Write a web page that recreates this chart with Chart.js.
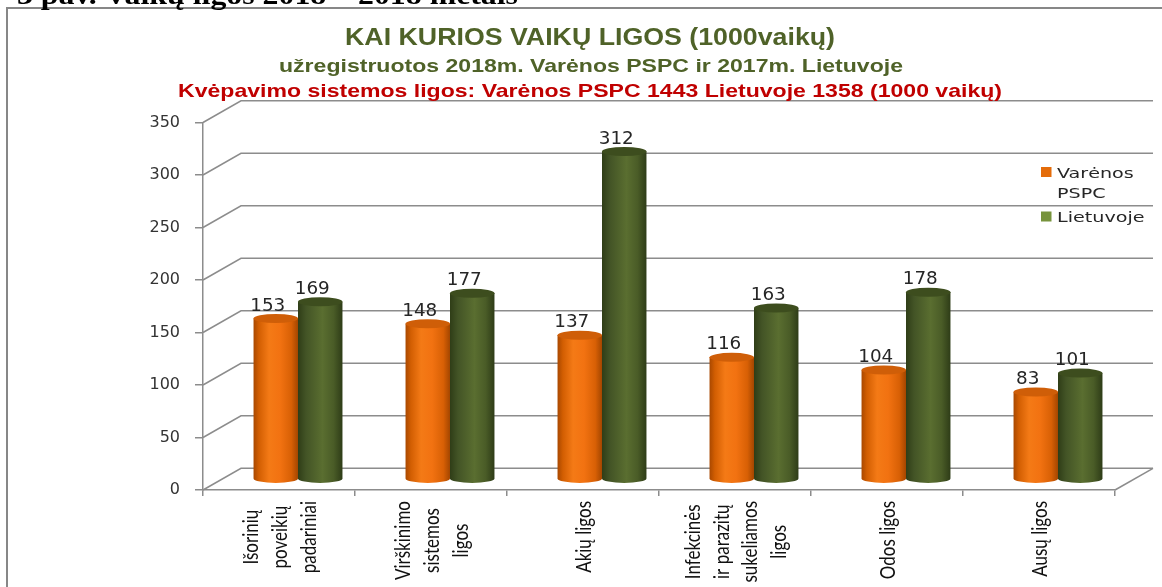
<!DOCTYPE html>
<html>
<head>
<meta charset="utf-8">
<script src="https://cdn.jsdelivr.net/npm/chart.js@4.4.1/dist/chart.umd.min.js"></script>
<style>
  html, body { margin: 0; padding: 0; background: #fff; }
  canvas { display: block; }
</style>
</head>
<body>
<canvas id="barChart" width="1162" height="587"></canvas>
<script>
// data
const CATEGORIES = [
    ["Išorinių", "poveikių", "padariniai"],
    ["Virškinimo", "sistemos", "ligos"],
    ["Akių ligos"],
    ["Infekcinės", "ir parazitų", "sukeliamos", "ligos"],
    ["Odos ligos"],
    ["Ausų ligos"],
];
const SERIES_NAMES = ["Varėnos PSPC", "Lietuvoje"];
const VARENA = [153, 148, 137, 116, 104, 83];
const LIETUVA = [169, 177, 312, 163, 178, 101];
const Y_MIN = 0;
const Y_MAX = 350;
const Y_STEP = 50;

const CAPTION = "3 pav. Vaikų ligos 2018 – 2018 metais";
const TITLE = "KAI KURIOS VAIKŲ LIGOS (1000vaikų)";
const SUBTITLE = "užregistruotos 2018m. Varėnos PSPC ir 2017m. Lietuvoje";
const NOTE = "Kvėpavimo sistemos ligos: Varėnos PSPC 1443 Lietuvoje 1358 (1000 vaikų)";

// 3d look
const DEPTH_X = 38;
const DEPTH_Y = -21.7;
const GRID = "#8c8c8c";

const CYL = [
    {
        stops: [[0, "#a94800"], [0.12, "#d25e02"], [0.35, "#f47a16"], [0.6, "#f27211"], [0.85, "#d86005"], [1, "#a44600"]],
        top: "#cf5e08",
    },
    {
        stops: [[0, "#2f3d17"], [0.18, "#435426"], [0.55, "#5a6e30"], [0.8, "#4a5c27"], [1, "#2e3c17"]],
        top: "#3d4d1e",
    },
];

function fitText(ctx, text, x, y, width, align) {
    const w = ctx.measureText(text).width;
    ctx.save();
    ctx.translate(x, y);
    ctx.scale(width / w, 1);
    ctx.textAlign = align;
    ctx.fillText(text, 0, 0);
    ctx.restore();
}

function wideText(ctx, text, x, y, sx, align) {
    ctx.save();
    ctx.translate(x, y);
    ctx.scale(sx, 1);
    ctx.textAlign = align;
    ctx.fillText(text, 0, 0);
    ctx.restore();
}

function cylinder(ctx, cx, top, bottom, rx, ry, style) {
    const g = ctx.createLinearGradient(cx - rx, 0, cx + rx, 0);
    style.stops.forEach(([o, c]) => g.addColorStop(o, c));
    ctx.fillStyle = g;
    ctx.beginPath();
    ctx.moveTo(cx - rx, top);
    ctx.lineTo(cx - rx, bottom);
    ctx.ellipse(cx, bottom, rx, ry, 0, Math.PI, 0, true);
    ctx.lineTo(cx + rx, top);
    ctx.closePath();
    ctx.fill();

    ctx.fillStyle = style.top;
    ctx.beginPath();
    ctx.ellipse(cx, top, rx, ry, 0, 0, Math.PI * 2);
    ctx.fill();
}

const decor = {
    id: "decor",
    beforeDraw(chart) {
        const ctx = chart.ctx;
        ctx.save();
        ctx.strokeStyle = "#878787";
        ctx.lineWidth = 2;
        ctx.strokeRect(7, 8, 1200, 700);
        ctx.restore();
    },
    beforeDatasetsDraw(chart) {
        const ctx = chart.ctx;
        const area = chart.chartArea;
        const yScale = chart.scales.y;

        // back wall grid lines with the side diagonals
        ctx.save();
        ctx.strokeStyle = GRID;
        ctx.lineWidth = 1.5;
        yScale.ticks.forEach((t) => {
            const y = yScale.getPixelForValue(t.value);
            ctx.beginPath();
            ctx.moveTo(area.left, y);
            ctx.lineTo(area.left + DEPTH_X, y + DEPTH_Y);
            ctx.lineTo(area.right + DEPTH_X, y + DEPTH_Y);
            ctx.stroke();
        });
        ctx.beginPath();
        ctx.moveTo(area.right, area.bottom);
        ctx.lineTo(area.right + DEPTH_X, area.bottom + DEPTH_Y);
        ctx.stroke();
        ctx.restore();

        // cylinders in the middle of the depth
        ctx.save();
        chart.data.datasets.forEach((ds, d) => {
            chart.getDatasetMeta(d).data.forEach((bar) => {
                const p = bar.getProps(["x", "y", "base", "width"], true);
                const cx = p.x + DEPTH_X / 2;
                const rx = p.width / 2;
                cylinder(ctx, cx, p.y + DEPTH_Y / 2, p.base + DEPTH_Y / 2, rx, 4.5, CYL[d]);
            });
        });
        ctx.restore();
        return false;
    },
    afterDraw(chart) {
        const ctx = chart.ctx;
        const xScale = chart.scales.x;

        // value labels
        ctx.save();
        ctx.font = "17px 'DejaVu Sans'";
        ctx.fillStyle = "#262626";
        ctx.textBaseline = "alphabetic";
        chart.data.datasets.forEach((ds, d) => {
            chart.getDatasetMeta(d).data.forEach((bar, i) => {
                const p = bar.getProps(["x", "y"], true);
                wideText(ctx, String(ds.data[i]), p.x + DEPTH_X / 2 - 8, p.y + DEPTH_Y / 2 - 8, 1.08, "center");
            });
        });
        ctx.restore();

        // category labels, rotated, lines centred
        ctx.save();
        ctx.font = "17px Lato";
        ctx.fillStyle = "#111";
        ctx.textAlign = "center";
        ctx.textBaseline = "middle";
        CATEGORIES.forEach((lines, i) => {
            const cx = xScale.getPixelForValue(i) + 1;
            const maxW = Math.max(...lines.map((l) => ctx.measureText(l).width));
            const cy = 501 + maxW / 2;
            const pitch = 28.6;
            lines.forEach((line, j) => {
                const lx = cx + (j - (lines.length - 1) / 2) * pitch;
                ctx.save();
                ctx.translate(lx, cy);
                ctx.rotate(-Math.PI / 2);
                ctx.scale(1, 1.27);
                ctx.fillText(line, 0, 0);
                ctx.restore();
            });
        });
        ctx.restore();

        // legend
        ctx.save();
        ctx.font = "14.5px 'DejaVu Sans'";
        ctx.fillStyle = "#262626";
        const legendRows = [[177.5, 197.5], [222]];
        chart.data.datasets.forEach((ds, d) => {
            const rows = legendRows[d];
            ctx.fillStyle = ds.backgroundColor;
            ctx.fillRect(1041, rows[0] - 10.5, 10.5, 10);
            ctx.fillStyle = "#262626";
            const words = ds.label.split(" ");
            const lines = rows.length > 1 ? [words[0], words.slice(1).join(" ")] : [ds.label];
            lines.forEach((line, k) => wideText(ctx, line, 1057, rows[k], 1.32, "left"));
        });
        ctx.restore();

        // titles
        ctx.save();
        ctx.textBaseline = "alphabetic";
        ctx.fillStyle = "#4f6228";
        ctx.font = "bold 23px 'Liberation Sans'";
        fitText(ctx, TITLE, 590, 45, 490, "center");
        ctx.font = "bold 18.5px 'Liberation Sans'";
        fitText(ctx, SUBTITLE, 591, 71.7, 624, "center");
        ctx.fillStyle = "#c00000";
        fitText(ctx, NOTE, 590, 96.7, 824, "center");

        ctx.fillStyle = "#000";
        ctx.font = "bold 28px 'Liberation Serif'";
        fitText(ctx, CAPTION, 17, 3.5, 501, "left");
        ctx.restore();
    },
};

const ctx = document.getElementById("barChart").getContext("2d");
new Chart(ctx, {
    type: "bar",
    data: {
        labels: CATEGORIES,
        datasets: [
            { label: SERIES_NAMES[0], data: VARENA, backgroundColor: "#e46c0a" },
            { label: SERIES_NAMES[1], data: LIETUVA, backgroundColor: "#77933c" },
        ],
    },
    options: {
        responsive: false,
        animation: false,
        devicePixelRatio: 1,
        categoryPercentage: 0.585,
        barPercentage: 1,
        layout: { padding: { left: 0, right: 47, top: 122.5, bottom: 0 } },
        plugins: {
            legend: { display: false },
            tooltip: { enabled: false },
        },
        scales: {
            x: {
                afterFit: (s) => { s.height = 97; },
                ticks: { display: false },
                grid: {
                    offset: true,
                    drawOnChartArea: false,
                    drawTicks: true,
                    tickLength: 6,
                    color: GRID,
                    lineWidth: 1.5,
                },
                border: { color: GRID, width: 1.5 },
            },
            y: {
                min: Y_MIN,
                max: Y_MAX,
                afterFit: (s) => { s.width = 203; },
                ticks: {
                    stepSize: Y_STEP,
                    padding: 15,
                    color: "#333",
                    font: { family: "DejaVu Sans", size: 16 },
                },
                grid: {
                    drawOnChartArea: false,
                    drawTicks: true,
                    tickLength: 8,
                    color: GRID,
                    lineWidth: 1.5,
                },
                border: { color: GRID, width: 1.5 },
            },
        },
    },
    plugins: [decor],
});
</script>
</body>
</html>
